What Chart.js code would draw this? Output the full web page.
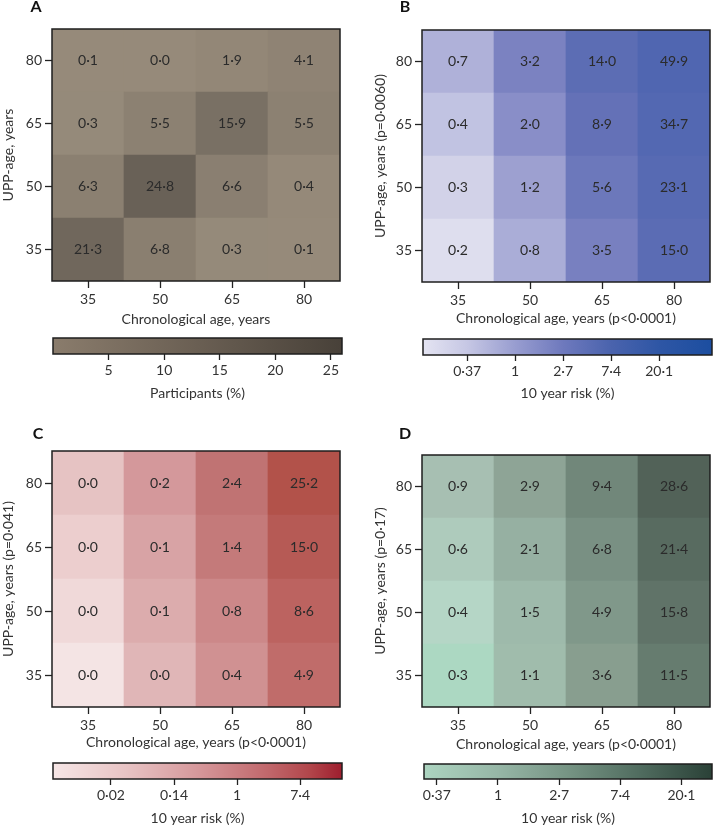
<!DOCTYPE html>
<html>
<head>
<meta charset="utf-8">
<script src="https://cdn.jsdelivr.net/npm/chart.js@4.4.1/dist/chart.umd.min.js"></script>
<style>
  body { margin: 0; background: #fff; }
  #wrap { position: relative; width: 713px; height: 827px; }
  canvas { position: absolute; }
</style>
</head>
<body>
<div id="wrap">
  <canvas id="hmA" width="355" height="330" style="left:0;top:0"></canvas>
  <canvas id="hmB" width="358" height="330" style="left:355px;top:0"></canvas>
  <canvas id="cbA" width="355" height="72" style="left:0;top:330px"></canvas>
  <canvas id="cbB" width="358" height="72" style="left:355px;top:330px"></canvas>
  <canvas id="hmC" width="355" height="353" style="left:0;top:400px"></canvas>
  <canvas id="hmD" width="358" height="355" style="left:355px;top:400px"></canvas>
  <canvas id="cbC" width="355" height="72" style="left:0;top:755px"></canvas>
  <canvas id="cbD" width="358" height="72" style="left:355px;top:755px"></canvas>
</div>
<script>
const chronAges = ["35", "50", "65", "80"];
const uppAges = ["35", "50", "65", "80"];

// rows: UPP-age 35 (bottom) .. 80 (top); columns: chronological age 35..80
const participantsA = [
  [21.3, 6.8, 0.3, 0.1],
  [6.3, 24.8, 6.6, 0.4],
  [0.3, 5.5, 15.9, 5.5],
  [0.1, 0.0, 1.9, 4.1]
];
const riskB = [
  [0.2, 0.8, 3.5, 15.0],
  [0.3, 1.2, 5.6, 23.1],
  [0.4, 2.0, 8.9, 34.7],
  [0.7, 3.2, 14.0, 49.9]
];
// small values estimated from shading, they print as 0·0 / 0·1
const riskC = [
  [0.004, 0.04, 0.4, 4.9],
  [0.007, 0.07, 0.8, 8.6],
  [0.012, 0.1, 1.4, 15.0],
  [0.02, 0.2, 2.4, 25.2]
];
const riskD = [
  [0.3, 1.1, 3.6, 11.5],
  [0.4, 1.5, 4.9, 15.8],
  [0.6, 2.1, 6.8, 21.4],
  [0.9, 2.9, 9.4, 28.6]
];

// colour bars (B-D are on a natural log scale)
const cbRangeA = [0, 26];
const cbTicksA = [5, 10, 15, 20, 25];
const cbLabelsA = ["5", "10", "15", "20", "25"];
const cbRangeB = [-1.92, 4.1];
const cbTicksB = [-1, 0, 1, 2, 3];
const cbLabelsB = ["0·37", "1", "2·7", "7·4", "20·1"];
const cbRangeC = [-5.84, 3.33];
const cbTicksC = [-4, -2, 0, 2];
const cbLabelsC = ["0·02", "0·14", "1", "7·4"];
const cbRangeD = [-1.21, 3.5];
const cbTicksD = [-1, 0, 1, 2, 3];
const cbLabelsD = ["0·37", "1", "2·7", "7·4", "20·1"];

Chart.defaults.font.family = "Lato, 'Open Sans', sans-serif";
Chart.defaults.color = "#333";

const INK = "#2b2b2b";

// colour stops: [position in scale units, [r,g,b]]
const cellStopsA = [[0, [150, 138, 122]], [25, [105, 97, 87]]];
const barStopsA = [[0, [138, 124, 108]], [13, [106, 95, 83]], [26, [72, 65, 57]]];
const cellStopsB = [[-1.61, [222, 222, 238]], [-1.2, [210, 210, 232]], [-0.92, [193, 195, 226]],
  [-0.36, [175, 177, 217]], [0.18, [157, 160, 208]], [0.7, [137, 142, 200]], [1.25, [120, 128, 192]],
  [1.72, [108, 120, 187]], [2.2, [100, 113, 183]], [2.7, [91, 108, 180]], [3.9, [80, 102, 177]]];
const barStopsB = [[-1.92, [228, 228, 242]], [-1, [198, 199, 228]], [0, [152, 157, 208]],
  [1, [110, 121, 189]], [2, [74, 99, 173]], [3, [46, 86, 165]], [4.1, [28, 78, 160]]];
const cellStopsC = [[-5.5, [244, 228, 228]], [-4.9, [240, 216, 216]], [-4.4, [236, 205, 205]],
  [-3.9, [230, 195, 195]], [-3.2, [224, 182, 183]], [-2.66, [220, 172, 173]], [-2.3, [216, 163, 165]],
  [-1.6, [212, 152, 155]], [-0.92, [208, 145, 146]], [-0.22, [204, 136, 137]], [0.34, [196, 122, 122]],
  [0.88, [192, 115, 115]], [1.59, [192, 108, 106]], [2.15, [188, 99, 96]], [2.7, [182, 90, 85]],
  [3.23, [178, 82, 74]]];
const barStopsC = [[-5.84, [246, 230, 230]], [-3.55, [232, 196, 197]], [-1.25, [214, 152, 155]],
  [1.04, [192, 102, 106]], [2.3, [178, 70, 75]], [3.33, [158, 30, 46]]];
const cellStopsD = [[-1.2, [172, 216, 194]], [-0.92, [181, 214, 198]], [-0.51, [174, 203, 188]],
  [-0.1, [167, 191, 178]], [0.1, [160, 188, 172]], [0.4, [158, 186, 171]], [0.74, [150, 176, 162]],
  [1.06, [142, 164, 150]], [1.28, [136, 158, 143]], [1.59, [128, 152, 138]], [1.92, [121, 144, 131]],
  [2.24, [113, 135, 122]], [2.44, [102, 124, 111]], [2.76, [96, 115, 104]], [3.06, [88, 107, 96]],
  [3.35, [82, 98, 88]]];
const barStopsD = [[-1.21, [172, 212, 192]], [0, [150, 182, 166]], [1.14, [118, 148, 132]],
  [2.32, [80, 108, 95]], [3.5, [42, 65, 55]]];

function interp(stops, v) {
  if (v <= stops[0][0]) return stops[0][1];
  for (let i = 1; i < stops.length; i++) {
    if (v <= stops[i][0]) {
      const [p0, c0] = stops[i - 1], [p1, c1] = stops[i];
      const t = (v - p0) / (p1 - p0);
      return c0.map((c, k) => Math.round(c + (c1[k] - c) * t));
    }
  }
  return stops[stops.length - 1][1];
}
const rgb = c => `rgb(${c[0]},${c[1]},${c[2]})`;
const fmt = v => v.toFixed(1).replace(".", "\u00b7");

// box around the plot area, panel letter, numbers in the cells
function framePlugin(letter, lx, ly) {
  return {
    id: "frame",
    afterDatasetsDraw(chart) {
      const { ctx, chartArea: a } = chart;
      ctx.save();
      chart.data.datasets.forEach((ds, di) => {
        if (!ds.cellText) return;
        chart.getDatasetMeta(di).data.forEach((el, i) => {
          ctx.fillStyle = INK;
          ctx.font = "14px Lato, 'Open Sans', sans-serif";
          ctx.textAlign = "center";
          ctx.textBaseline = "middle";
          ctx.fillText(ds.cellText[i], el.x, (el.y + el.base) / 2);
        });
      });
      ctx.strokeStyle = "#1e1e1e";
      ctx.lineWidth = 1.5;
      ctx.strokeRect(a.left, a.top, a.right - a.left, a.bottom - a.top);
      if (letter) {
        ctx.fillStyle = "#111";
        ctx.font = "bold 16px Lato, 'Open Sans', sans-serif";
        ctx.textAlign = "center";
        ctx.textBaseline = "middle";
        ctx.fillText(letter, lx, ly);
      }
      ctx.restore();
    }
  };
}

function heatmap(id, cells, stops, logScale, yTitle, xTitle, letter, g) {
  const colorOf = v => rgb(interp(stops, logScale ? Math.log(v) : v));
  const datasets = uppAges.map((age, r) => ({
    label: age,
    data: chronAges.map(() => 1),
    backgroundColor: cells[r].map(colorOf),
    cellText: cells[r].map(fmt),
    borderWidth: 0,
    barPercentage: 1,
    categoryPercentage: 1
  }));
  const tickGrid = { offset: false, drawOnChartArea: false, tickLength: 7, tickColor: "#222", tickWidth: 1.3 };
  new Chart(document.getElementById(id), {
    type: "bar",
    data: { labels: chronAges, datasets },
    options: {
      responsive: false,
      animation: false,
      events: [],
      layout: { padding: { left: g.padLeft, right: g.padRight, top: g.top, bottom: 0 } },
      plugins: { legend: { display: false }, tooltip: { enabled: false } },
      scales: {
        x: {
          stacked: true,
          grid: tickGrid,
          border: { display: false },
          ticks: { font: { size: 14 }, padding: 3, color: "#333" },
          title: { display: true, text: xTitle, font: { size: 14 }, color: "#333", padding: { top: 0, bottom: g.titlePad } },
          afterFit: s => { s.height = g.xHeight; }
        },
        y: {
          stacked: true,
          min: 0,
          max: 4,
          afterBuildTicks: s => { s.ticks = uppAges.map((_, i) => ({ value: i + 0.5 })); },
          ticks: { callback: v => uppAges[Math.floor(v)], font: { size: 14 }, padding: 3, color: "#333" },
          grid: tickGrid,
          border: { display: false },
          title: { display: true, text: yTitle, font: { size: 14 }, color: "#333", padding: 0 },
          afterFit: s => { s.width = g.yWidth; }
        }
      }
    },
    plugins: [framePlugin(letter, g.lx, g.ly)]
  });
}

function colorbar(id, range, ticks, labels, stops, title, g) {
  const [lo, hi] = range;
  new Chart(document.getElementById(id), {
    type: "bar",
    data: {
      labels: [""],
      datasets: [{
        data: [[lo, hi]],
        barPercentage: 1,
        categoryPercentage: 1,
        borderWidth: 0,
        backgroundColor: ctx => {
          const a = ctx.chart.chartArea;
          if (!a) return "transparent";
          const grad = ctx.chart.ctx.createLinearGradient(a.left, 0, a.right, 0);
          stops.forEach(([p, c]) => grad.addColorStop(Math.min(1, Math.max(0, (p - lo) / (hi - lo))), rgb(c)));
          return grad;
        }
      }]
    },
    options: {
      indexAxis: "y",
      responsive: false,
      animation: false,
      events: [],
      layout: { padding: { left: g.padLeft, right: g.padRight, top: g.top, bottom: 0 } },
      plugins: { legend: { display: false }, tooltip: { enabled: false } },
      scales: {
        x: {
          type: "linear",
          min: lo,
          max: hi,
          afterBuildTicks: s => { s.ticks = ticks.map(v => ({ value: v })); },
          ticks: { callback: (v, i) => labels[i], font: { size: 14 }, padding: 2, color: "#333", maxRotation: 0, autoSkip: false },
          grid: { drawOnChartArea: false, tickLength: 6, tickColor: "#222", tickWidth: 1.3 },
          border: { display: false },
          title: { display: true, text: title, font: { size: 14 }, color: "#333", padding: { top: 0, bottom: 0 } },
          afterFit: s => { s.height = g.xHeight; }
        },
        y: { display: false }
      }
    },
    plugins: [framePlugin(null)]
  });
}

const xTitleP = "Chronological age, years (p<0\u00b70001)";

heatmap("hmA", participantsA, cellStopsA, false, "UPP-age, years", "Chronological age, years", "A",
  { padLeft: 0, yWidth: 52, padRight: 15, top: 29, xHeight: 49, titlePad: 2, lx: 36, ly: 7 });
heatmap("hmB", riskB, cellStopsB, true, "UPP-age, years (p=0\u00b70060)", xTitleP, "B",
  { padLeft: 17, yWidth: 50, padRight: 3, top: 30, xHeight: 48, titlePad: 3, lx: 50, ly: 7 });
heatmap("hmC", riskC, cellStopsC, true, "UPP-age, years (p=0\u00b7041)", xTitleP, "C",
  { padLeft: 0, yWidth: 52, padRight: 15, top: 51, xHeight: 46, titlePad: 2, lx: 38, ly: 34 });
heatmap("hmD", riskD, cellStopsD, true, "UPP-age, years (p=0\u00b717)", xTitleP, "D",
  { padLeft: 17, yWidth: 50, padRight: 3, top: 55, xHeight: 48, titlePad: 2, lx: 50, ly: 34 });

colorbar("cbA", cbRangeA, cbTicksA, cbLabelsA, barStopsA, "Participants (%)",
  { padLeft: 53, padRight: 13, top: 8, xHeight: 48 });
colorbar("cbB", cbRangeB, cbTicksB, cbLabelsB, barStopsB, "10 year risk (%)",
  { padLeft: 68, padRight: 1, top: 9, xHeight: 47 });
colorbar("cbC", cbRangeC, cbTicksC, cbLabelsC, barStopsC, "10 year risk (%)",
  { padLeft: 53, padRight: 13, top: 8, xHeight: 48 });
colorbar("cbD", cbRangeD, cbTicksD, cbLabelsD, barStopsD, "10 year risk (%)",
  { padLeft: 69, padRight: 1, top: 9, xHeight: 48 });
</script>
</body>
</html>
